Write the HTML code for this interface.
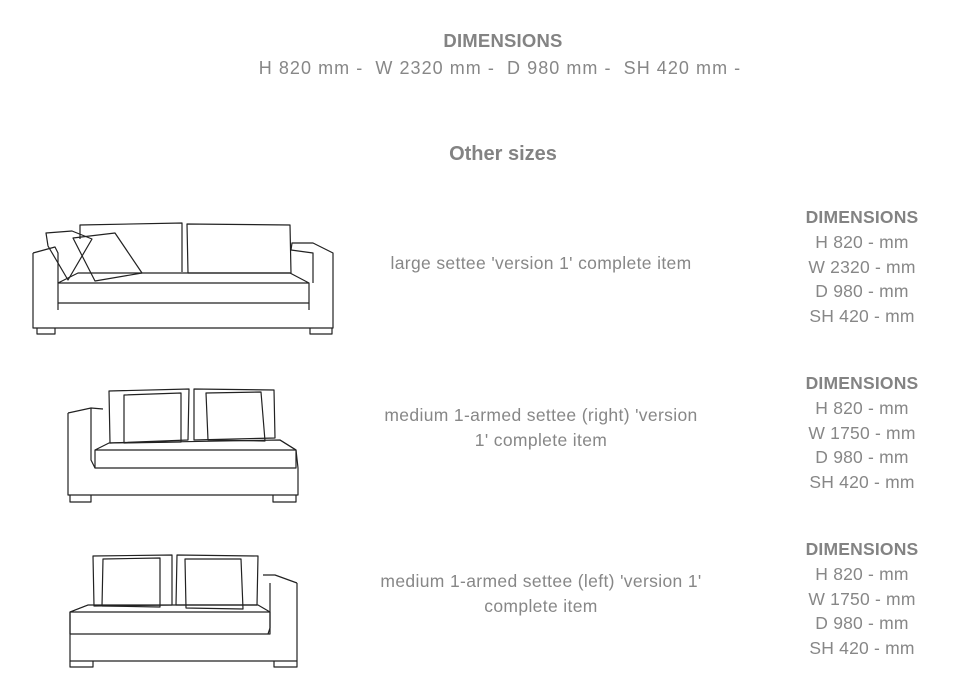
<!DOCTYPE html>
<html><head><meta charset="utf-8"><style>
html,body{margin:0;padding:0;background:#fff;width:959px;height:696px;overflow:hidden}
svg{display:block}
text{font-family:"Liberation Sans",sans-serif;fill:#878787;white-space:pre}
.b{font-weight:bold;fill:#838383}
</style></head><body>
<svg width="959" height="696" viewBox="0 0 959 696" xml:space="preserve">
<g text-anchor="middle">
<text x="503" y="47" font-size="18.5" class="b" letter-spacing="0.2">DIMENSIONS</text>
<text x="500" y="74" font-size="18" letter-spacing="1.05">H 820 mm -  W 2320 mm -  D 980 mm -  SH 420 mm -</text>
<text x="503" y="160" font-size="20" class="b">Other sizes</text>
<g font-size="17.5" letter-spacing="0.35">
<text x="541" y="269">large settee 'version 1' complete item</text>
<text x="541" y="421">medium 1-armed settee (right) 'version</text>
<text x="541" y="446">1' complete item</text>
<text x="541" y="587">medium 1-armed settee (left) 'version 1'</text>
<text x="541" y="612">complete item</text>
</g>
<g font-size="17.5" letter-spacing="0.2">
<text x="862" y="223" font-size="17.5" class="b">DIMENSIONS</text>
<text x="862" y="248">H 820 - mm</text><text x="862" y="273">W 2320 - mm</text><text x="862" y="297">D 980 - mm</text><text x="862" y="322">SH 420 - mm</text>
<text x="862" y="389" font-size="17.5" class="b">DIMENSIONS</text>
<text x="862" y="414">H 820 - mm</text><text x="862" y="439">W 1750 - mm</text><text x="862" y="463">D 980 - mm</text><text x="862" y="488">SH 420 - mm</text>
<text x="862" y="555" font-size="17.5" class="b">DIMENSIONS</text>
<text x="862" y="580">H 820 - mm</text><text x="862" y="605">W 1750 - mm</text><text x="862" y="629">D 980 - mm</text><text x="862" y="654">SH 420 - mm</text>
</g></g>
<g fill="none" stroke="#222" stroke-width="1.2" stroke-linejoin="round">
<path d="M80 239 L80 225 L182 223 L182 272"/>
<path d="M187 224 L290 225 L291 273 L188 273 Z"/>
<path d="M33 253 L55 247 L58 253 L58 283"/>
<path d="M33 253 L33 328 L333 328 L333 253 L313 243 L292 243 L291 250 L313 253 L313 283"/>
<path d="M58 283 L78 273 L290 273 L309 283 L58 283 L58 303 L309 303 L309 283"/>
<path d="M58 303 L58 310 M309 303 L309 310"/>
<path d="M46 233 L72 231 L92 239 L68 280 L48 246 Z"/>
<path d="M73 238 L115 233 L142 273 L95 281 Z"/>
<path d="M37 328 L37 334 L55 334 L55 328 M310 328 L310 334 L332 334 L332 328"/>
<path d="M68 413 L91 408 L103 409"/>
<path d="M68 413 L68 495 L298 495 L298 468 L296 450 L280 440"/>
<path d="M91 408 L91 460 L95 468"/>
<path d="M109 391 L189 389 L188 440 L110 443 Z"/>
<path d="M194 389 L274 390 L275 438 L194 440 Z"/>
<path d="M124 395 L181 393 L181 442 L124 443 Z"/>
<path d="M206 393 L261 392 L265 441 L208 440 Z"/>
<path d="M95 450 L109 443 L280 440 L296 450 L95 450 L95 468 L296 468 L296 450"/>
<path d="M70 495 L70 502 L91 502 L91 495 M273 495 L273 502 L296 502 L296 495"/>
<path d="M297 583 L275 575 L263 575"/>
<path d="M297 583 L297 661 L70 661 L70 634 L70 612 L88 605"/>
<path d="M270 583 L270 628 L268 634"/>
<path d="M93 556 L172 555 L172 605 L94 606 Z"/>
<path d="M177 555 L258 556 L257 605 L176 605 Z"/>
<path d="M103 559 L160 558 L160 607 L102 606 Z"/>
<path d="M185 559 L241 559 L243 609 L186 608 Z"/>
<path d="M70 612 L88 605 L258 605 L270 612 L70 612 L70 634 L270 634 L270 612"/>
<path d="M70 661 L70 667 L93 667 L93 661 M274 661 L274 667 L297 667 L297 661"/>
</g>
</svg>
</body></html>
